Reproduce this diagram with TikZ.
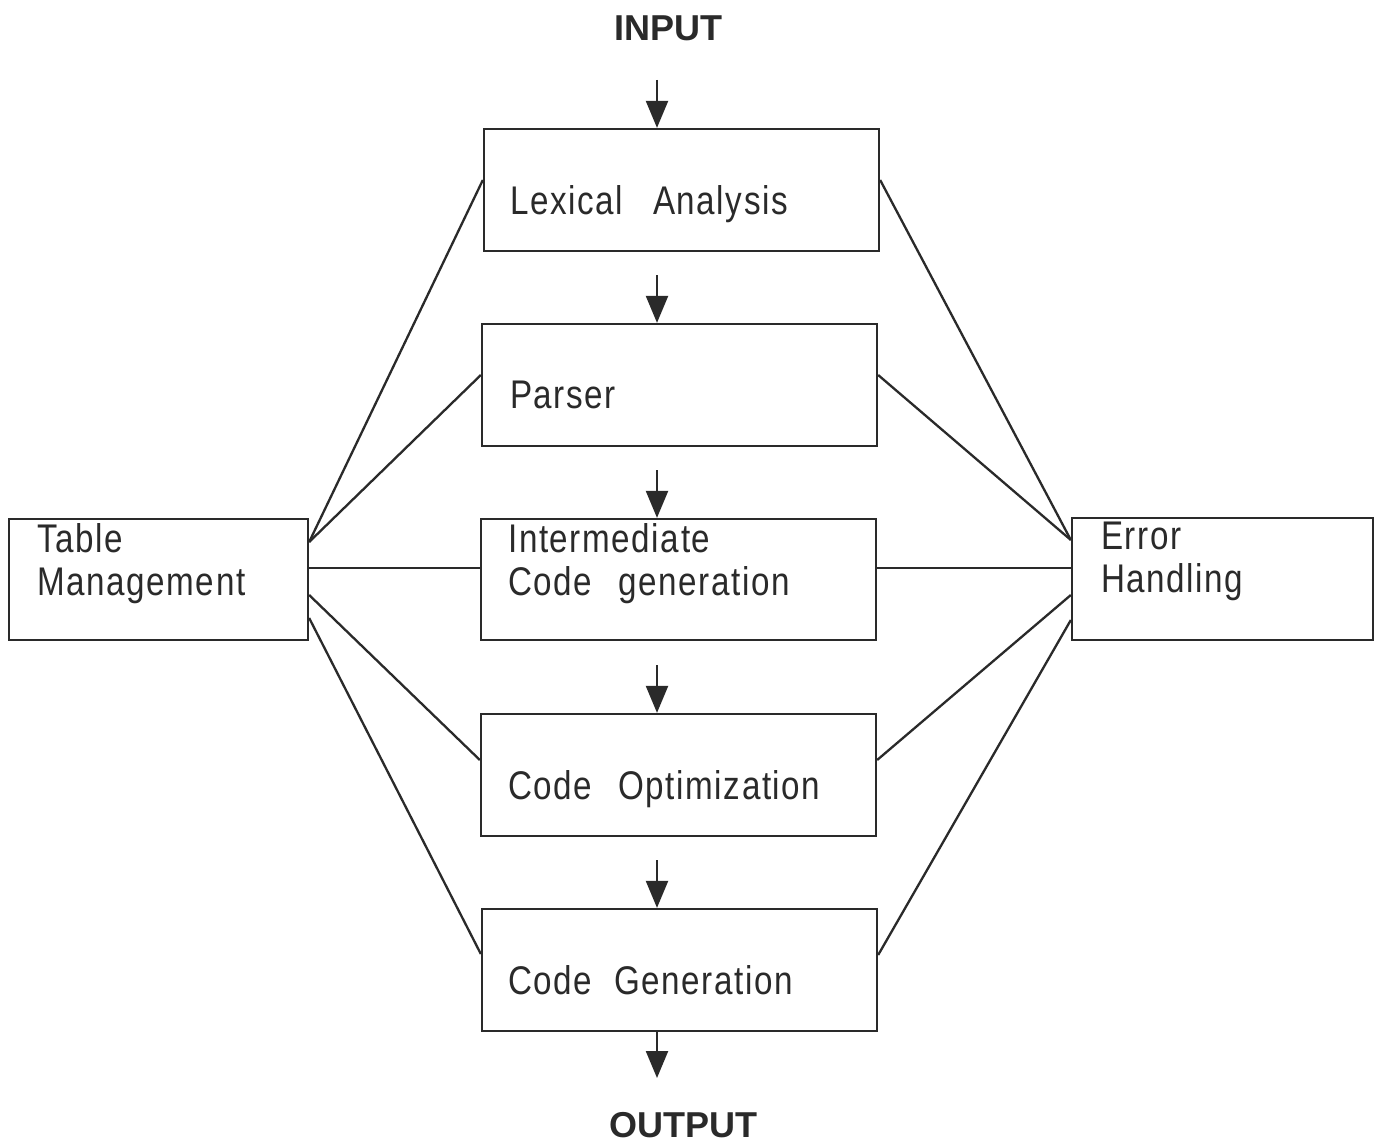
\documentclass[tikz,border=0pt]{standalone}
\usepackage{fontspec}
\setmainfont{Liberation Sans}
\newfontfamily\boxfont[FakeStretch=0.83,LetterSpace=4]{Liberation Sans}
\usetikzlibrary{arrows.meta}
\definecolor{ink}{HTML}{2A2A2A}
\begin{document}
\begin{tikzpicture}[x=1pt,y=-1pt,
  box/.style={draw=ink,line width=2.3pt,inner sep=0pt},
  lbl/.style={anchor=base west,inner sep=0pt,font=\boxfont\fontsize{40}{43}\selectfont,text=ink,align=left},
  conn/.style={draw=ink,line width=2.3pt},
  flow/.style={draw=ink,line width=2.3pt,-{Triangle[width=22pt,length=27pt]}},
  io/.style={font=\bfseries\fontsize{36}{40}\selectfont,text=ink,inner sep=0pt}]
\useasboundingbox (0,0) rectangle (1376,1145);
\fill[white] (0,0) rectangle (1376,1145);

% boxes
\node[box,minimum width=395pt,minimum height=122pt] (lex) at (681.5,190) {};
\node[box,minimum width=395pt,minimum height=122pt] (par) at (679.5,385) {};
\node[box,minimum width=395pt,minimum height=121pt] (icg) at (678.5,579.5) {};
\node[box,minimum width=395pt,minimum height=122pt] (opt) at (678.5,775) {};
\node[box,minimum width=395pt,minimum height=122pt] (gen) at (679.5,970) {};
\node[box,minimum width=299pt,minimum height=121pt] (tm) at (158.5,579.5) {};
\node[box,minimum width=301pt,minimum height=122pt] (eh) at (1222.5,579) {};

% labels (multi-line labels are anchored at the baseline of their last line)
\node[lbl] (lexT) at (510,214) {Lexical\hspace{30pt}Analysis};
\node[lbl] (parT) at (510,408) {Parser};
\node[lbl] (icgT) at (508,595) {Intermediate\\Code\hspace{26pt}generation};
\node[lbl] (optT) at (508,799) {Code\hspace{26pt}Optimization};
\node[lbl] (genT) at (508,994) {Code\hspace{22pt}Generation};
\node[lbl] (tmT) at (37,595) {Table\\Management};
\node[lbl] (ehT) at (1101,592) {Error\\Handling};

% input / output
\node[io] (in) at (668,28) {INPUT};
\node[io] (out) at (683,1125) {OUTPUT};

% flow arrows
\coordinate (t0) at (657,80);
\coordinate (t1) at (657,275);
\coordinate (t2) at (657,470);
\coordinate (t3) at (657,665);
\coordinate (t4) at (657,860);
\coordinate (t5) at (657,1078);
\draw[flow] (t0) -- (t0 |- lex.north);
\draw[flow] (t1) -- (t1 |- par.north);
\draw[flow] (t2) -- (t2 |- icg.north);
\draw[flow] (t3) -- (t3 |- opt.north);
\draw[flow] (t4) -- (t4 |- gen.north);
\draw[flow] (t5 |- gen.south) -- (t5);

% connectors to table management
\draw[conn] (tm.east |- 0,542) -- (lex.west |- 0,180);
\draw[conn] (tm.east |- 0,542) -- (par.west |- 0,375);
\draw[conn] (tm.east |- 0,568) -- (icg.west |- 0,568);
\draw[conn] (tm.east |- 0,595) -- (opt.west |- 0,760);
\draw[conn] (tm.east |- 0,618) -- (gen.west |- 0,954);
% connectors to error handling
\draw[conn] (lex.east |- 0,180) -- (eh.west |- 0,540);
\draw[conn] (par.east |- 0,375) -- (eh.west |- 0,540);
\draw[conn] (icg.east |- 0,568) -- (eh.west |- 0,568);
\draw[conn] (opt.east |- 0,760) -- (eh.west |- 0,595);
\draw[conn] (gen.east |- 0,955) -- (eh.west |- 0,620);
\end{tikzpicture}
\end{document}
